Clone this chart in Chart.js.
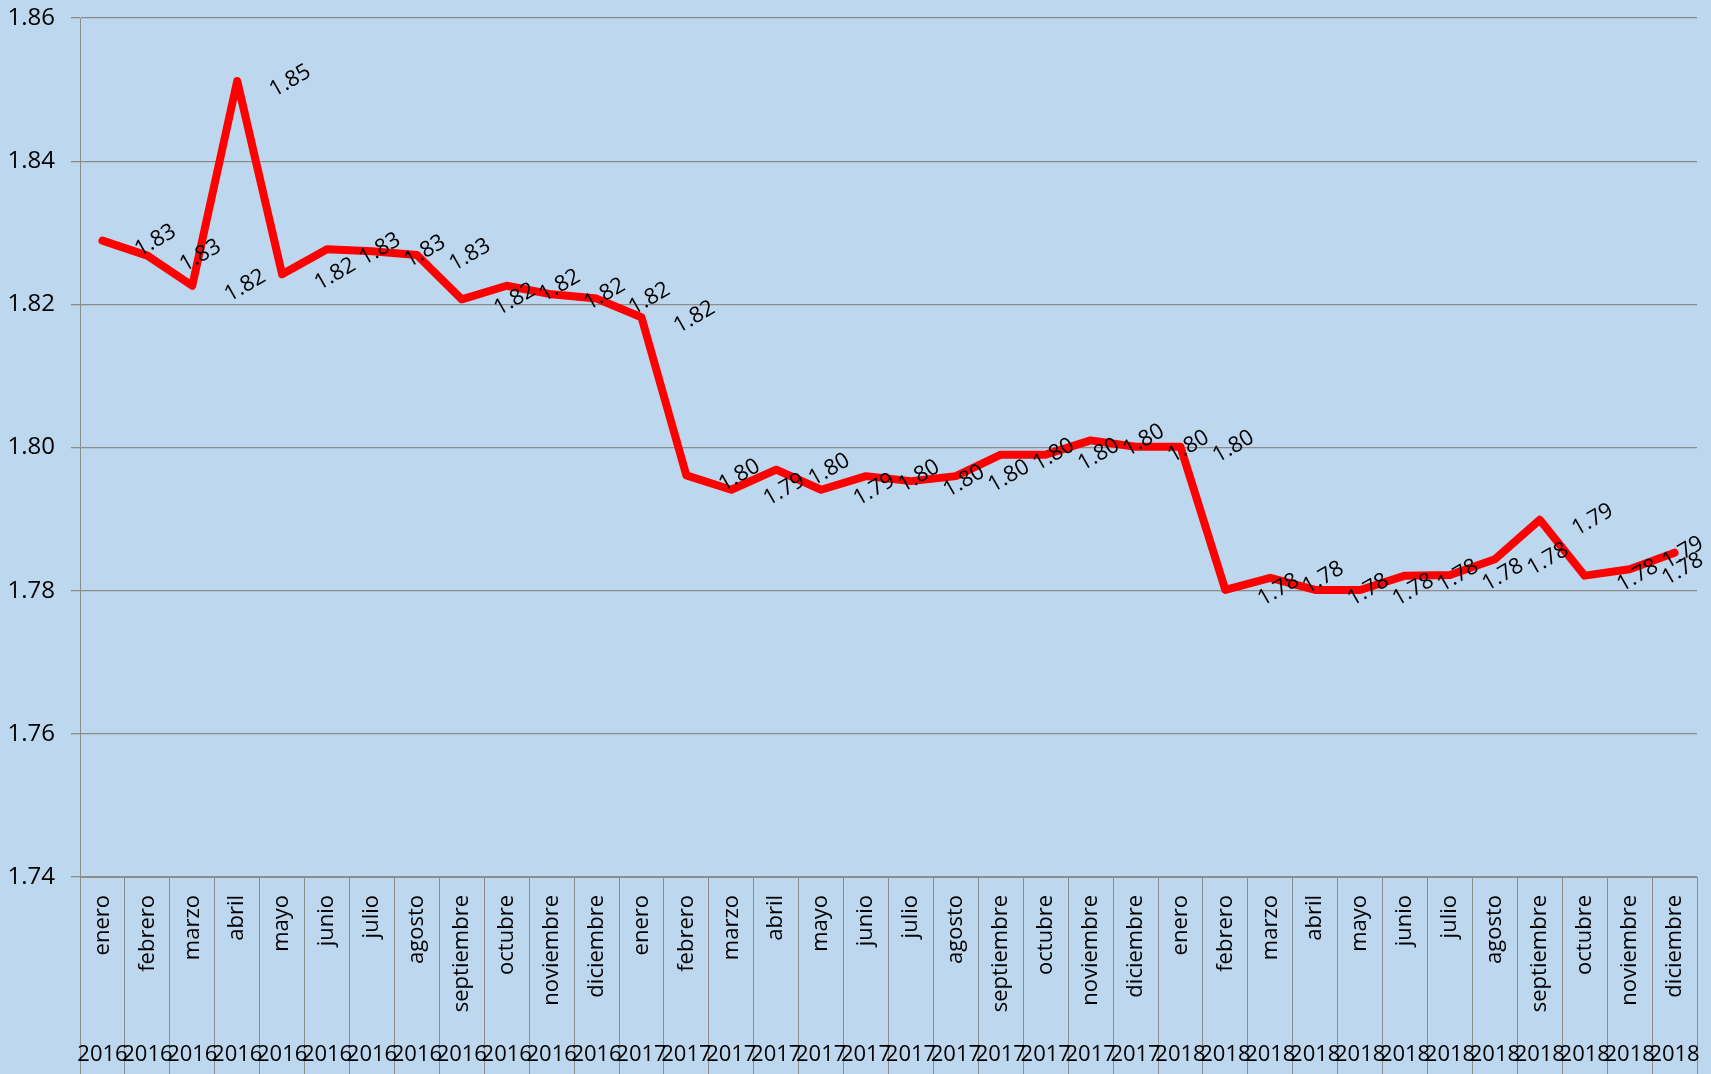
<!DOCTYPE html>
<html>
<head>
<meta charset="utf-8">
<script src="https://cdn.jsdelivr.net/npm/chart.js@4/dist/chart.umd.min.js"></script>
<style>
    html, body { margin: 0; padding: 0; background: #bdd7ee; }
    #wrap { width: 1711px; height: 1074px; position: relative; }
</style>
</head>
<body>
<div id="wrap"><canvas id="chart"></canvas></div>
<script>
const months = ['enero', 'febrero', 'marzo', 'abril', 'mayo', 'junio', 'julio', 'agosto',
    'septiembre', 'octubre', 'noviembre', 'diciembre'];
const years = ['2016', '2017', '2018'];

const values = [
    1.8289, 1.8268, 1.8226, 1.8512, 1.8242, 1.8277, 1.8274, 1.8269, 1.8207, 1.8226, 1.8214, 1.8208,
    1.8182, 1.7961, 1.7941, 1.7969, 1.7941, 1.7960, 1.7953, 1.7960, 1.7990, 1.7990, 1.8010, 1.8001,
    1.8001, 1.7801, 1.7818, 1.7801, 1.7801, 1.7821, 1.7822, 1.7844, 1.7899, 1.7821, 1.7830, 1.7853,
];

const yTicks = [1.74, 1.76, 1.78, 1.80, 1.82, 1.84, 1.86];

const labels = [];
years.forEach(y => months.forEach(m => labels.push([m, y])));

const FONT = '"Open Sans", "Noto Sans", sans-serif';

// month (rotated) + year below each category, drawn in the tick area
const categoryLabels = {
    id: 'categoryLabels',
    afterDraw(chart) {
        const ctx = chart.ctx;
        const xs = chart.scales.x;
        ctx.save();
        ctx.fillStyle = '#000';
        labels.forEach((lab, i) => {
            const x = xs.getPixelForValue(i);
            ctx.save();
            ctx.translate(x, xs.top + 18);
            ctx.rotate(-Math.PI / 2);
            ctx.font = `22px ${FONT}`;
            ctx.textAlign = 'right';
            ctx.textBaseline = 'middle';
            ctx.fillText(lab[0], 0, 0);
            ctx.restore();

            ctx.font = `22px ${FONT}`;
            ctx.textAlign = 'center';
            ctx.textBaseline = 'middle';
            ctx.fillText(lab[1], x, 1055);
        });
        ctx.restore();
    }
};

// value labels, rotated and pushed to the right of each point
const valueLabels = {
    id: 'valueLabels',
    afterDatasetsDraw(chart) {
        const ctx = chart.ctx;
        const meta = chart.getDatasetMeta(0);
        const area = chart.chartArea;
        ctx.save();
        ctx.font = `22px ${FONT}`;
        ctx.fillStyle = '#000';
        ctx.textAlign = 'center';
        ctx.textBaseline = 'middle';
        meta.data.forEach((pt, i) => {
            let x = Math.min(pt.x + 53, area.right - 14);
            ctx.save();
            ctx.translate(x, pt.y);
            ctx.rotate(-Math.PI / 6);
            ctx.fillText(values[i].toFixed(2), 0, 0);
            ctx.restore();
        });
        ctx.restore();
    }
};

new Chart(document.getElementById('chart'), {
    type: 'line',
    data: {
        labels: labels,
        datasets: [{
            data: values,
            borderColor: '#ff0000',
            borderWidth: 8,
            borderJoinStyle: 'round',
            borderCapStyle: 'round',
            pointRadius: 0,
            tension: 0,
            fill: false,
        }]
    },
    options: {
        responsive: true,
        maintainAspectRatio: false,
        animation: false,
        layout: { padding: { top: 18, right: 14, left: 0, bottom: 0 } },
        plugins: {
            legend: { display: false },
            tooltip: { enabled: false },
        },
        scales: {
            x: {
                type: 'category',
                offset: true,
                ticks: { display: false },
                grid: {
                    offset: true,
                    drawOnChartArea: false,
                    drawTicks: true,
                    tickLength: 197,
                    color: '#8c8c8c',
                    lineWidth: 1,
                },
                border: { color: '#8c8c8c', width: 1 },
            },
            y: {
                min: 1.74,
                max: 1.86,
                afterBuildTicks(scale) {
                    scale.ticks = yTicks.map(v => ({ value: v }));
                },
                afterFit(scale) {
                    scale.width = 80;
                    scale.paddingTop = 0;
                    scale.paddingBottom = 0;
                },
                ticks: {
                    color: '#000',
                    padding: 16,
                    font: { family: FONT, size: 24 },
                    callback: v => v.toFixed(2),
                },
                grid: {
                    color: '#8c8c8c',
                    lineWidth: 1.3,
                    tickLength: 9,
                },
                border: { color: '#8c8c8c', width: 1 },
            }
        }
    },
    plugins: [categoryLabels, valueLabels],
});
</script>
</body>
</html>
